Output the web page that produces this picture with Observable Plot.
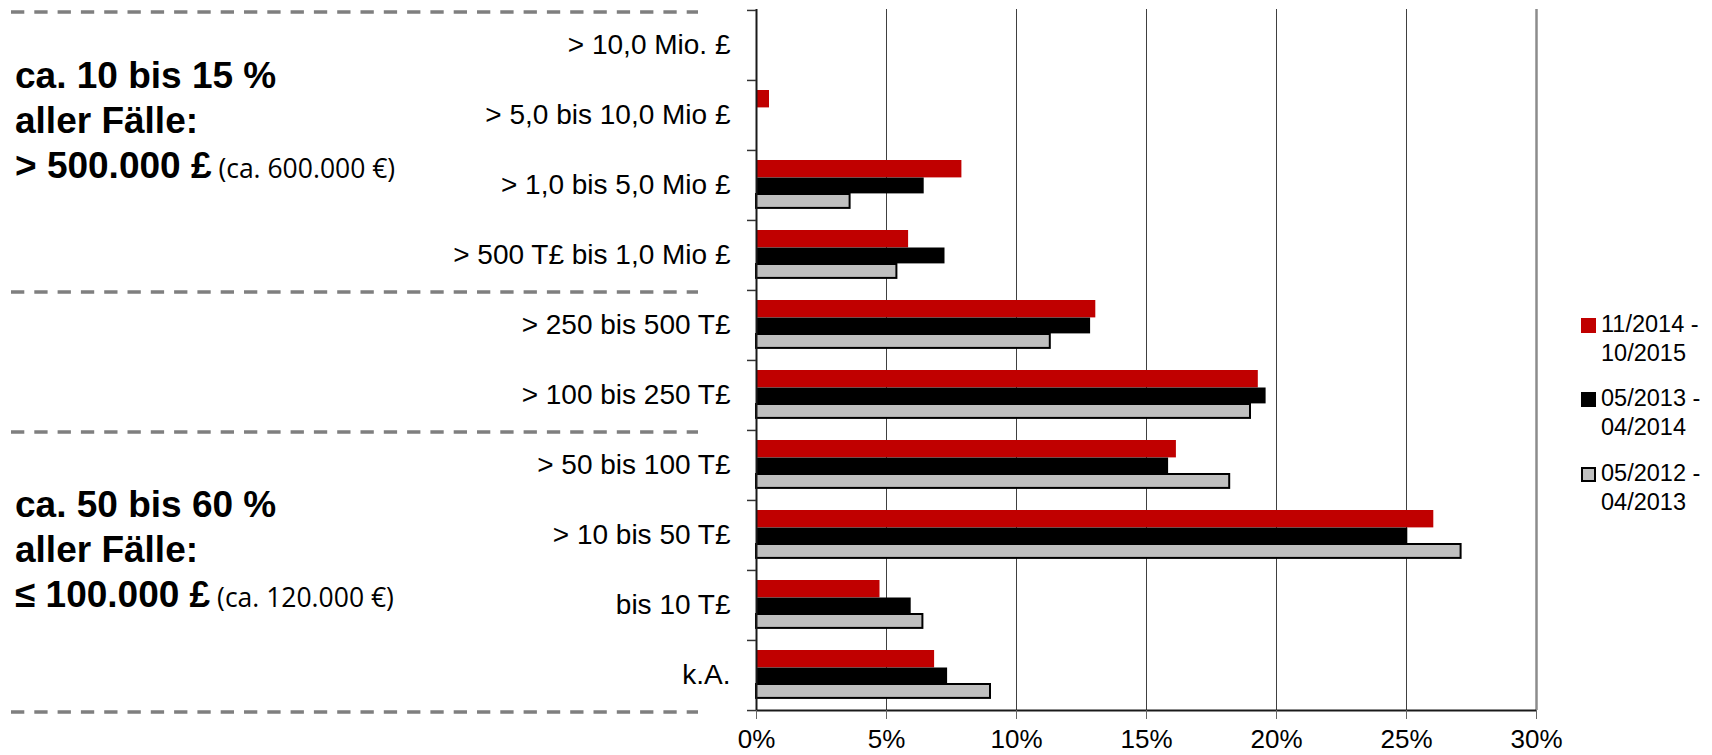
<!DOCTYPE html>
<html>
<head>
<meta charset="utf-8">
<script src="https://cdn.jsdelivr.net/npm/d3@7"></script>
<script src="https://cdn.jsdelivr.net/npm/@observablehq/plot@0.6"></script>
<style>
  html, body { margin: 0; padding: 0; background: #fff; }
  #wrap { position: relative; width: 1712px; height: 755px; overflow: hidden; }
  #wrap svg { display: block; }
  #overlay { position: absolute; left: 0; top: 0; pointer-events: none; }
</style>
</head>
<body>
<div id="wrap"></div>
<script>
// ---- data ----
const categories = [
  "> 10,0 Mio. £",
  "> 5,0 bis 10,0 Mio £",
  "> 1,0 bis 5,0 Mio £",
  "> 500 T£ bis 1,0 Mio £",
  "> 250 bis 500 T£",
  "> 100 bis 250 T£",
  "> 50 bis 100 T£",
  "> 10 bis 50 T£",
  "bis 10 T£",
  "k.A."
];
const seriesLabels = [
  ["11/2014 -", "10/2015"],
  ["05/2013 -", "04/2014"],
  ["05/2012 -", "04/2013"]
];
const values2014_2015 = [0, 0.5, 7.9, 5.85, 13.05, 19.3, 16.15, 26.05, 4.75, 6.85];
const values2013_2014 = [0, 0, 6.45, 7.25, 12.85, 19.6, 15.85, 25.05, 5.95, 7.35];
const values2012_2013 = [0, 0, 3.6, 5.4, 11.3, 19.0, 18.2, 27.1, 6.4, 9.0];
const xTicks = [0, 5, 10, 15, 20, 25, 30];
const gridTicks = [5, 10, 15, 20, 25];
const seriesColors = ["#C00000", "#000000", "#C0C0C0"];

const annotationTop = ["ca. 10 bis 15 %", "aller Fälle:", "> 500.000 £", " (ca. 600.000 €)"];
const annotationBottom = ["ca. 50 bis 60 %", "aller Fälle:", "≤ 100.000 £", " (ca. 120.000 €)"];

// ---- build table ----
const rows = (vals) => categories.map((c, i) => ({cat: c, value: vals[i]}));
const d1 = rows(values2014_2015);
const d2 = rows(values2013_2014);
const d3rows = rows(values2012_2013);

const FONT = "'Liberation Sans', Arimo, Arial, Helvetica, sans-serif";
const W = 1712, H = 755;
const mTop = 9, mBottom = 45, mLeft = 756, mRight = 176;
const bw = (H - mTop - mBottom) / categories.length;

const chart = Plot.plot({
  width: W,
  height: H,
  marginTop: mTop,
  marginBottom: mBottom,
  marginLeft: mLeft,
  marginRight: mRight,
  style: {fontFamily: FONT, background: "#fff", color: "#000"},
  x: {domain: [0, 30]},
  y: {domain: categories, padding: 0},
  marks: [
    Plot.ruleX(gridTicks, {stroke: "#404040", strokeWidth: 1}),
    Plot.ruleX([30], {stroke: "#8c8c8c", strokeWidth: 2.5}),
    Plot.barX(d1, {y: "cat", x: "value", fill: seriesColors[0], insetTop: 10, insetBottom: bw - 27.5}),
    Plot.barX(d2, {y: "cat", x: "value", fill: seriesColors[1], insetTop: 27.5, insetBottom: bw - 43.5}),
    Plot.barX(d3rows.filter(d => d.value > 0), {y: "cat", x: "value", fill: seriesColors[2], stroke: "#000", strokeWidth: 2, insetTop: 44, insetBottom: bw - 58}),
    Plot.ruleX([0], {stroke: "#1a1a1a", strokeWidth: 2}),
    Plot.ruleY(categories, {y: d => d, x1: 0, x2: 0, insetLeft: -9, dy: -bw / 2, stroke: "#333", strokeWidth: 1.5}),
    Plot.ruleY([categories[categories.length - 1]], {y: d => d, x1: 0, x2: 0, insetLeft: -9, dy: bw / 2, stroke: "#333", strokeWidth: 1.5}),
    Plot.ruleY([categories[categories.length - 1]], {y: d => d, x1: 0, x2: 30, dy: bw / 2, stroke: "#1a1a1a", strokeWidth: 2}),
    Plot.axisX({ticks: xTicks, tickFormat: d => d + "%", tickSize: 9, tickPadding: 10, fontSize: 26, stroke: "#666", label: null}),
    Plot.axisY({tickSize: 0, tickPadding: 26, fontSize: 28, label: null})
  ]
});

const wrap = document.getElementById("wrap");
wrap.appendChild(chart);

// ---- overlay: group separators, annotations, legend ----
const ys = chart.scale("y");
const bandTop = (c) => ys.apply(c);
const sepY = [
  bandTop(categories[0]),
  bandTop(categories[4]),
  bandTop(categories[6]),
  bandTop(categories[categories.length - 1]) + ys.bandwidth
].map(v => v + 2);

const ov = d3.select(wrap).append("svg")
  .attr("id", "overlay")
  .attr("width", W).attr("height", H)
  .style("font-family", FONT);

ov.selectAll("line.sep").data(sepY).join("line")
  .attr("class", "sep")
  .attr("x1", 11).attr("x2", 698)
  .attr("y1", d => d).attr("y2", d => d)
  .attr("stroke", "#7f7f7f").attr("stroke-width", 3.3)
  .attr("stroke-dasharray", "13.3,10");

function block(lines, y0) {
  const g = ov.append("g").attr("font-weight", "bold").attr("font-size", 37).attr("fill", "#000");
  g.append("text").attr("x", 15).attr("y", y0).text(lines[0]);
  g.append("text").attr("x", 15).attr("y", y0 + 45).text(lines[1]);
  const t = g.append("text").attr("x", 15).attr("y", y0 + 90);
  t.append("tspan").text(lines[2]);
  t.append("tspan").attr("font-weight", "normal").attr("font-size", 26.5)
    .attr("font-family", "'Open Sans', sans-serif").text(lines[3]);
}
block(annotationTop, 88);
block(annotationBottom, 517);

const legTop = [318, 392, 467];
const lg = ov.append("g").attr("font-size", 23.5).attr("fill", "#000");
seriesLabels.forEach((lab, i) => {
  lg.append("rect")
    .attr("x", i === 2 ? 1582 : 1581).attr("y", i === 2 ? legTop[i] + 1 : legTop[i])
    .attr("width", i === 2 ? 13 : 15).attr("height", i === 2 ? 13 : 15)
    .attr("fill", seriesColors[i])
    .attr("stroke", i === 2 ? "#000" : "none").attr("stroke-width", 2);
  lg.append("text").attr("x", 1601).attr("y", legTop[i] + 14).text(lab[0]);
  lg.append("text").attr("x", 1601).attr("y", legTop[i] + 43).text(lab[1]);
});
</script>
</body>
</html>
